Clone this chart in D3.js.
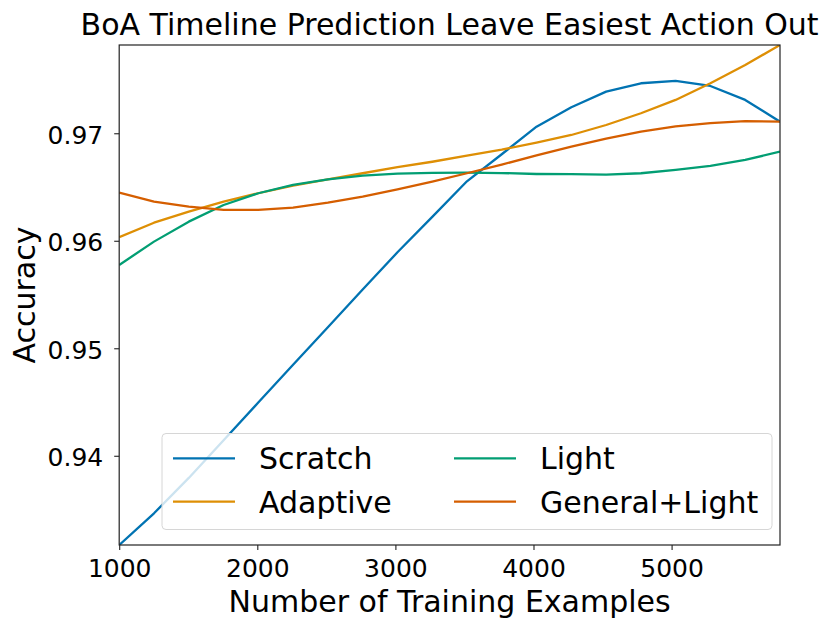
<!DOCTYPE html>
<html lang="en">
<head>
<meta charset="utf-8">
<script src="https://d3js.org/d3.v7.min.js"></script>
<style>
  body { margin: 0; background: #fff; }
  text { font-family: "DejaVu Sans", sans-serif; fill: #000; }
</style>
</head>
<body>
<svg id="chart" width="831" height="631"></svg>
<script>
// training set sizes (x)
const examples = [1000, 1252, 1504, 1756, 2007, 2259, 2511, 2763, 3015, 3267,
                  3518, 3770, 4022, 4274, 4526, 4778, 5029, 5281, 5533, 5785];

// accuracy per method
const scratch = [0.93170, 0.93465, 0.93794, 0.94145, 0.94495, 0.94846, 0.95196, 0.95546, 0.95893, 0.96222,
                 0.96553, 0.96805, 0.97061, 0.97242, 0.97387, 0.97465, 0.97487, 0.97440, 0.97310, 0.97108];
const adaptive = [0.96033, 0.96168, 0.96271, 0.96364, 0.96442, 0.96513, 0.96572, 0.96628, 0.96684, 0.96735,
                  0.96793, 0.96847, 0.96914, 0.96984, 0.97077, 0.97186, 0.97310, 0.97465, 0.97635, 0.97821];
const light = [0.95775, 0.95992, 0.96178, 0.96333, 0.96442, 0.96519, 0.96572, 0.96606, 0.96624, 0.96632,
               0.96634, 0.96630, 0.96621, 0.96619, 0.96615, 0.96628, 0.96659, 0.96696, 0.96752, 0.96829];
const generalLight = [0.96447, 0.96364, 0.96317, 0.96287, 0.96287, 0.96308, 0.96354, 0.96410, 0.96479, 0.96550,
                      0.96628, 0.96708, 0.96795, 0.96875, 0.96950, 0.97015, 0.97065, 0.97095, 0.97112, 0.97108];

const seriesNames = ["Scratch", "Adaptive", "Light", "General+Light"];
const xTicks = [1000, 2000, 3000, 4000, 5000];
const yTicks = [0.94, 0.95, 0.96, 0.97];

const series = [
    { name: seriesNames[0], values: scratch, color: "#0173b2" },
    { name: seriesNames[1], values: adaptive, color: "#de8f05" },
    { name: seriesNames[2], values: light, color: "#029e73" },
    { name: seriesNames[3], values: generalLight, color: "#d55e00" }
];

// plot box
const plotLeft = 119.2, plotRight = 780, plotTop = 45, plotBottom = 545;

const svg = d3.select("#chart");

const x = d3.scaleLinear()
    .domain([d3.min(examples), d3.max(examples)])
    .range([plotLeft, plotRight]);

const allVals = scratch.concat(adaptive, light, generalLight);
const y = d3.scaleLinear()
    .domain([d3.min(allVals), d3.max(allVals)])
    .range([plotBottom, plotTop]);

svg.append("defs").append("clipPath").attr("id", "plot-clip")
    .append("rect")
    .attr("x", plotLeft).attr("y", plotTop)
    .attr("width", plotRight - plotLeft).attr("height", plotBottom - plotTop);

// lines
const line = d3.line()
    .x((d, i) => x(examples[i]))
    .y(d => y(d));

svg.append("g")
    .attr("clip-path", "url(#plot-clip)")
    .selectAll("path")
    .data(series)
    .enter().append("path")
    .attr("d", d => line(d.values))
    .attr("fill", "none")
    .attr("stroke", d => d.color)
    .attr("stroke-width", 2.3)
    .attr("stroke-linejoin", "round");

// axes
const xAxis = svg.append("g")
    .attr("transform", `translate(0,${plotBottom})`)
    .call(d3.axisBottom(x).tickValues(xTicks).tickFormat(d3.format("d")).tickSize(5).tickPadding(9));

const yAxis = svg.append("g")
    .attr("transform", `translate(${plotLeft},0)`)
    .call(d3.axisLeft(y).tickValues(yTicks).tickFormat(d3.format(".2f")).tickSize(5).tickPadding(11));

[xAxis, yAxis].forEach(g => {
    g.select(".domain").remove();
    g.selectAll(".tick line").attr("stroke", "#222").attr("stroke-width", 1.1);
    g.selectAll(".tick text")
        .style("font-family", "'DejaVu Sans', sans-serif")
        .style("font-size", "25px")
        .attr("fill", "#000");
});
yAxis.selectAll(".tick text").attr("dy", "0.4em");

// spines
svg.append("rect")
    .attr("x", plotLeft).attr("y", plotTop)
    .attr("width", plotRight - plotLeft).attr("height", plotBottom - plotTop)
    .attr("fill", "none")
    .attr("stroke", "#222")
    .attr("stroke-width", 1.2);

// title and axis labels
svg.append("text")
    .attr("x", (plotLeft + plotRight) / 2).attr("y", 35)
    .attr("text-anchor", "middle")
    .style("font-size", "30px")
    .text("BoA Timeline Prediction Leave Easiest Action Out");

svg.append("text")
    .attr("x", (plotLeft + plotRight) / 2).attr("y", 612)
    .attr("text-anchor", "middle")
    .style("font-size", "30px")
    .text("Number of Training Examples");

svg.append("text")
    .attr("transform", `translate(35,${(plotTop + plotBottom) / 2}) rotate(-90)`)
    .attr("text-anchor", "middle")
    .style("font-size", "30px")
    .text("Accuracy");

// legend (2 columns, filled column by column)
const legend = svg.append("g");
legend.append("rect")
    .attr("x", 162).attr("y", 433.5)
    .attr("width", 610).attr("height", 96)
    .attr("rx", 4).attr("ry", 4)
    .attr("fill", "rgba(255,255,255,0.8)")
    .attr("stroke", "#d6d6d6")
    .attr("stroke-width", 1);

const colX = [173, 454];
const rowY = [458.3, 501.7];
const item = legend.selectAll("g.item")
    .data(series)
    .enter().append("g")
    .attr("class", "item")
    .attr("transform", (d, i) => `translate(${colX[Math.floor(i / 2)]},${rowY[i % 2]})`);

item.append("line")
    .attr("x1", 0).attr("x2", 62)
    .attr("y1", 0).attr("y2", 0)
    .attr("stroke", d => d.color)
    .attr("stroke-width", 2.3);

item.append("text")
    .attr("x", 86).attr("y", 11)
    .style("font-size", "30px")
    .text(d => d.name);
</script>
</body>
</html>
